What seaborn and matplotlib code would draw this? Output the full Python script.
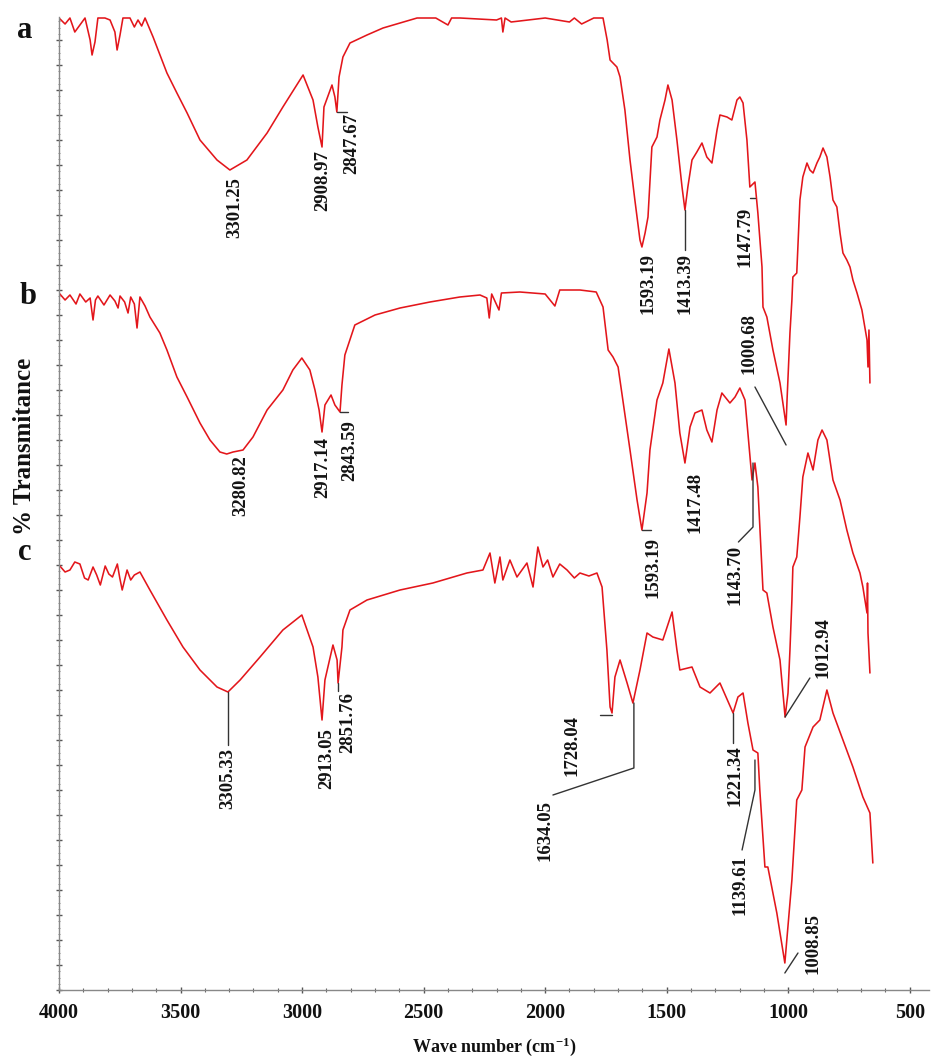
import matplotlib
matplotlib.use("Agg")
import matplotlib.pyplot as plt
import seaborn as sns
import pandas as pd
from matplotlib.ticker import MultipleLocator

# ---------------- data (wavenumber cm-1, transmittance offset units) ----------------
spectrum_a = [(4000,97.2),(3975,96.6),(3955,97.2),(3935,95.8),(3914,96.5),(3893,97.2),(3872,95.0),(3864,93.5),
    (3852,94.8),(3840,97.2),(3811,97.2),(3790,97.0),(3770,95.8),(3761,94.0),(3749,95.5),(3737,97.2),(3708,97.2),
    (3690,96.3),(3675,97.0),(3660,96.4),(3646,97.2),(3613,95.3),(3556,91.7),(3515,89.7),(3473,87.7),(3420,85.0),
    (3350,83.0),(3297,82.0),(3227,83.0),(3144,85.7),(3079,88.3),(2996,91.5),(2955,89.0),(2935,86.3),(2918,84.3),
    (2910,88.3),(2877,90.5),(2865,89.3),(2857,87.8),(2848,91.3),(2832,93.3),(2803,94.7),(2733,95.5),(2667,96.2),
    (2597,96.7),(2527,97.2),(2450,97.2),(2400,96.5),(2385,97.2),(2350,97.2),(2200,97.0),(2180,97.2),(2174,95.8),
    (2165,97.2),(2140,96.8),(2000,97.2),(1900,96.8),(1880,97.2),(1850,96.6),(1800,97.2),(1762,97.2),(1745,95.0),
    (1733,93.0),(1705,92.3),(1692,91.3),(1672,88.0),(1651,83.0),(1631,79.0),(1610,75.0),(1602,74.3),(1589,75.7),
    (1577,77.3),(1561,84.3),(1540,85.3),(1528,87.0),(1507,89.0),(1495,90.5),(1478,89.0),(1458,85.0),(1437,80.3),
    (1425,78.0),(1413,80.3),(1396,83.0),(1376,83.8),(1355,84.7),(1335,83.3),(1314,82.7),(1293,86.0),(1281,87.5),
    (1252,87.3),(1232,87.0),(1211,89.0),(1199,89.3),(1186,88.7),(1170,85.0),(1158,80.3),(1137,80.8),(1125,77.7),
    (1108,72.3),(1104,68.3),(1088,67.3),(1063,64.0),(1034,60.7),(1009,56.5),(1005,59.0),(993,65.7),(985,69.0),
    (981,71.3),(965,71.7),(952,79.0),(940,81.3),(923,82.7),(911,82.0),(898,81.7),(882,82.7),(870,83.3),(857,84.2),
    (841,83.3),(828,81.3),(816,79.0),(800,78.3),(787,75.7),(775,73.7),(759,73.0),(746,72.3),(734,71.0),(717,69.7),
    (697,68.0),(676,65.0),(672,62.3),(668,66.0),(664,60.7)]

spectrum_b = [(4000,69.7),(3975,69.0),(3955,69.5),(3930,68.6),(3914,69.6),(3890,68.8),(3872,69.2),(3860,67.0),
    (3850,69.0),(3840,69.4),(3815,68.5),(3790,69.5),(3770,68.9),(3757,68.2),(3749,69.4),(3730,68.8),(3716,67.7),
    (3705,69.3),(3690,68.6),(3679,66.2),(3667,69.3),(3646,68.4),(3626,67.3),(3585,65.7),(3556,64.0),(3515,61.3),
    (3473,59.3),(3420,56.7),(3379,55.0),(3338,53.8),(3310,53.6),(3284,53.8),(3243,54.0),(3202,55.3),(3144,58.0),
    (3079,60.0),(3038,62.0),(3001,63.2),(2968,62.0),(2947,60.0),(2930,58.0),(2918,55.8),(2906,58.5),(2881,59.5),
    (2865,58.5),(2844,57.8),(2836,60.5),(2824,63.5),(2783,66.5),(2700,67.5),(2597,68.2),(2474,68.8),(2351,69.3),
    (2268,69.5),(2240,69.2),(2230,67.2),(2220,69.6),(2190,68.0),(2180,69.7),(2104,69.8),(2000,69.6),(1960,68.4),
    (1940,70.0),(1857,70.0),(1790,69.8),(1762,68.3),(1741,64.0),(1721,63.3),(1700,62.3),(1651,54.0),(1622,49.0),
    (1602,46.0),(1581,49.7),(1569,54.0),(1540,59.0),(1516,60.7),(1491,64.1),(1466,60.7),(1446,55.7),(1425,52.7),
    (1404,56.3),(1384,57.7),(1355,58.0),(1335,56.0),(1314,54.8),(1293,58.0),(1273,59.7),(1240,58.7),(1219,59.3),
    (1199,60.2),(1178,59.0),(1166,55.7),(1149,51.0),(1137,52.7),(1125,50.3),(1104,40.0),(1088,39.7),(1063,36.3),
    (1034,33.0),(1013,27.3),(1001,29.7),(993,34.0),(985,39.0),(981,42.3),(965,43.3),(952,47.3),(940,51.3),
    (919,53.7),(898,52.0),(878,55.0),(861,56.0),(841,55.0),(816,51.0),(787,49.0),(759,46.0),(734,43.7),(705,41.7),
    (693,40.3),(676,37.7),(674,40.7),(672,35.7),(664,31.7)]

spectrum_c = [(4000,42.5),(3975,41.8),(3955,42.0),(3935,42.8),(3914,42.6),(3895,41.2),(3880,41.0),(3860,42.3),
    (3845,41.5),(3830,40.5),(3810,42.4),(3795,41.6),(3780,41.3),(3760,42.6),(3750,41.2),(3740,40.0),(3720,42.0),
    (3705,41.0),(3690,41.5),(3667,41.8),(3626,40.0),(3556,37.0),(3490,34.3),(3420,32.0),(3350,30.3),(3305,29.8),
    (3255,31.0),(3173,33.3),(3079,36.0),(3001,37.5),(2955,34.3),(2935,31.3),(2918,27.0),(2906,31.0),(2873,34.5),
    (2856,33.0),(2852,30.7),(2836,34.3),(2832,36.0),(2803,38.0),(2733,39.0),(2597,40.0),(2462,40.7),(2322,41.7),
    (2256,42.0),(2227,43.7),(2207,40.7),(2186,43.3),(2174,41.0),(2145,43.0),(2116,41.3),(2075,42.7),(2050,40.3),
    (2030,44.3),(2009,42.3),(1990,43.0),(1968,41.3),(1940,42.6),(1910,42.0),(1880,41.2),(1857,41.7),(1820,41.4),
    (1787,41.7),(1766,40.3),(1746,34.0),(1733,28.3),(1725,27.7),(1713,31.3),(1692,33.0),(1663,30.7),(1639,28.7),
    (1610,32.0),(1581,35.7),(1557,35.3),(1516,35.0),(1478,37.8),(1458,34.0),(1446,32.0),(1396,32.3),(1363,30.3),
    (1322,29.7),(1281,30.7),(1227,27.7),(1207,29.3),(1186,29.7),(1166,26.7),(1145,24.0),(1125,23.7),(1117,20.0),
    (1096,12.3),(1084,12.3),(1047,7.7),(1014,2.7),(985,11.0),(965,19.0),(944,20.0),(931,24.3),(898,26.3),
    (870,27.0),(841,30.0),(816,27.7),(775,25.0),(734,22.3),(693,19.3),(664,17.7),(652,12.7)]

sample_names = ["a", "b", "c"]

# peak labels: text, x (cm-1), top of text (y units)
peak_labels = ["3301.25", "2908.97", "2847.67", "1593.19", "1413.39", "1147.79", "1000.68",
               "3280.82", "2917.14", "2843.59", "1593.19", "1417.48", "1143.70", "1012.94",
               "3305.33", "2913.05", "2851.76", "1728.04", "1634.05", "1221.34", "1139.61", "1008.85"]
peak_label_x = [3276, 2914, 2795, 1577, 1425, 1178, 1162,
                3251, 2914, 2803, 1557, 1384, 1219, 857,
                3305, 2898, 2811, 1890, 2001, 1219, 1199, 898]
peak_label_top = [81.3, 84.0, 87.7, 73.7, 73.7, 78.3, 67.7,
                  53.5, 55.3, 57.0, 45.3, 51.8, 44.5, 37.3,
                  24.2, 26.2, 29.8, 27.5, 19.0, 24.5, 13.5, 7.7]

# leader lines (cm-1, y)
leaders = [
    [(2857, 87.8), (2815, 87.8)],
    [(1425, 78.0), (1425, 74.0)],
    [(1158, 79.2), (1137, 79.2)],
    [(1009, 54.5), (1137, 60.3)],
    [(2844, 57.8), (2812, 57.8)],
    [(1602, 46.0), (1565, 46.0)],
    [(1145, 52.7), (1145, 46.3), (1205, 44.8)],
    [(1013, 27.3), (911, 31.2)],
    [(3305, 29.8), (3305, 24.5)],
    [(2852, 30.7), (2852, 29.9)],
    [(1725, 27.5), (1775, 27.5)],
    [(1635, 28.7), (1635, 22.2), (1968, 19.5)],
    [(1227, 27.7), (1227, 24.7)],
    [(1137, 23.0), (1137, 20.0), (1190, 14.0)],
    [(1014, 1.7), (960, 3.7)],
]

x_ticks = [4000, 3500, 3000, 2500, 2000, 1500, 1000, 500]

# ---------------- plotting ----------------
sns.set_theme(style="ticks")
plt.rcParams["font.family"] = ["Liberation Serif", "DejaVu Serif"]
plt.rcParams["mathtext.fontset"] = "custom"
plt.rcParams["mathtext.rm"] = "Liberation Serif:bold"
plt.rcParams["mathtext.it"] = "Liberation Serif:bold"
plt.rcParams["mathtext.bf"] = "Liberation Serif:bold"

rows = []
for name, spec in zip(sample_names, [spectrum_a, spectrum_b, spectrum_c]):
    for w, t in spec:
        rows.append({"sample": name, "wn": w, "T": t})
df = pd.DataFrame(rows)

fig = plt.figure(figsize=(9.36, 10.59), dpi=100)
ax = fig.add_axes([59 / 936, 69 / 1059, 870 / 936, 973 / 1059])

sns.lineplot(data=df, x="wn", y="T", units="sample", estimator=None, sort=False,
             color="#e3161b", lw=1.15, ax=ax, legend=False)

for pts in leaders:
    xs = [p[0] for p in pts]
    ys = [p[1] for p in pts]
    ax.plot(xs, ys, color="#333333", lw=1.0)

for s, x, t in zip(peak_labels, peak_label_x, peak_label_top):
    ax.text(x, t, s, rotation=90, ha="center", va="top", fontsize=13.5,
            fontweight="bold", color="#141414")

ax.set_xlim(4000, 421)
ax.set_ylim(0, 97.3)
ax.set_xticks(x_ticks)
ax.set_xticklabels([str(v) for v in x_ticks], fontweight="bold")
ax.xaxis.set_minor_locator(MultipleLocator(100))
ax.yaxis.set_major_locator(MultipleLocator(2.5))
ax.yaxis.set_minor_locator(MultipleLocator(0.625))
ax.tick_params(axis="x", which="major", direction="inout", length=5, width=1.0,
               color="#555555", labelsize=14.5, pad=7, labelcolor="#111111")
ax.tick_params(axis="x", which="minor", direction="inout", length=3, width=0.8, color="#666666")
ax.tick_params(axis="y", which="major", direction="inout", length=4, width=1.0,
               color="#555555", labelleft=False)
ax.tick_params(axis="y", which="minor", direction="inout", length=2, width=0.6, color="#777777")

for side in ["top", "right"]:
    ax.spines[side].set_visible(False)
for side in ["left", "bottom"]:
    ax.spines[side].set_color("#888888")
    ax.spines[side].set_linewidth(1.0)

ax.set_xlabel("Wave number (cm$^{-1}$)", fontsize=13, fontweight="bold", labelpad=9, color="#111111")
ax.set_ylabel("")

fig.text(25 / 936, 1 - 446 / 1059, "% Transmitance", rotation=90, ha="center", va="center",
         fontsize=18, fontweight="bold", color="#111111")
for name, ypix, xpix in zip(sample_names, [30, 297, 553], [25, 28, 25]):
    fig.text(xpix / 936, 1 - ypix / 1059, name, ha="center", va="center",
             fontsize=22, fontweight="bold", color="#111111")

fig.savefig("out.png", dpi=100)
